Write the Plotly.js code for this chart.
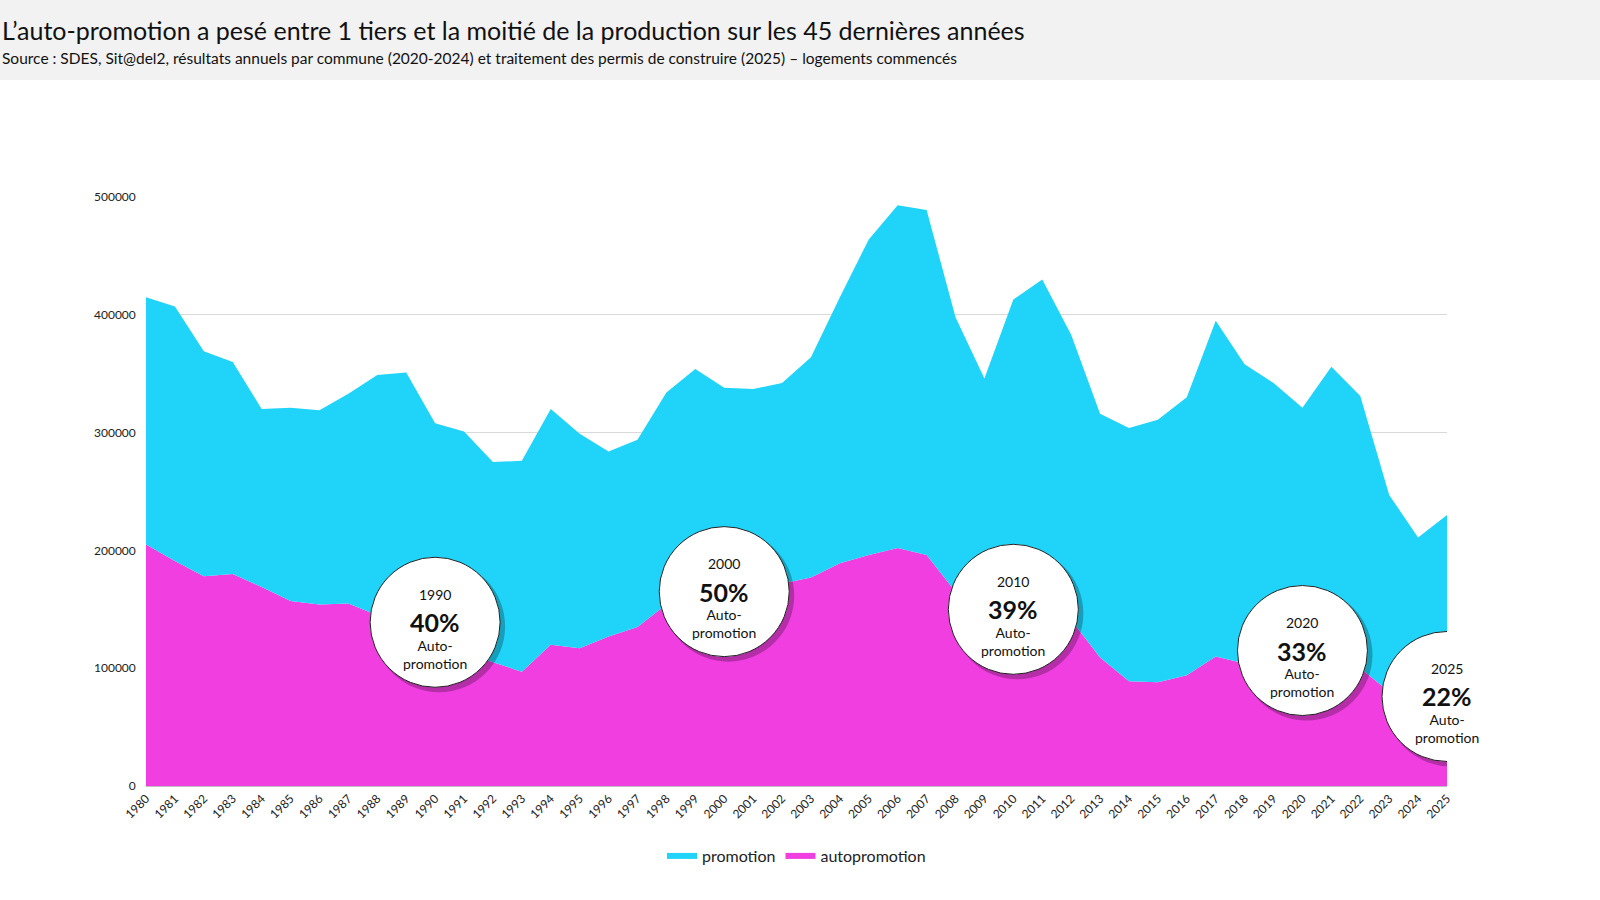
<!DOCTYPE html>
<html>
<head>
<meta charset="utf-8">
<script src="https://cdn.plot.ly/plotly-3.0.1.min.js"></script>
<style>body{margin:0;background:#fff}#chart{width:1600px;height:900px}</style>
</head>
<body>
<div id="chart"></div>
<script>
// Années et logements commencés (lecture approximative du graphique)
var years = [];
for (var y = 1980; y <= 2025; y++) years.push(y);

var autopromotion = [205000,191000,178000,180000,169000,157000,154000,155000,145000,137000,
  123000,115000,105000,97000,120000,117000,127000,135000,154000,165000,
  169000,170000,172000,177000,189000,196000,202000,196000,165000,145000,
  161000,160000,141000,109000,89000,88000,94000,110000,104000,100000,
  106000,110000,100000,80000,55000,51000];

var promotion = [210000,216000,191000,180000,151000,164000,165000,178000,204000,214000,
  185000,186000,170000,179000,200000,182000,157000,159000,180000,189000,
  169000,167000,170000,187000,226000,268000,291000,293000,233000,201000,
  252000,270000,242000,207000,215000,223000,236000,285000,254000,242000,
  215000,246000,231000,167000,156000,179000];

// bulles : année, part, position
var bubbleYear = [1990, 2000, 2010, 2020, 2025];
var bubbleShare = ['40%', '50%', '39%', '33%', '22%'];
var bubbleY = [139000, 165000, 150000, 115000, 76000];

var traces = [
  {x: years, y: autopromotion, name: 'autopromotion', type: 'scatter', mode: 'none',
   stackgroup: 'one', fillcolor: '#f03ee0', line: {width: 0}},
  {x: years, y: promotion, name: 'promotion', type: 'scatter', mode: 'none',
   stackgroup: 'one', fillcolor: '#1fd3f9', line: {width: 0}}
];

var shapes = [{type: 'rect', xref: 'paper', yref: 'paper', x0: -0.2, x1: 1.2,
  y0: (786 - 80) / 589, y1: 2, fillcolor: '#f2f2f2', line: {width: 0}, layer: 'below'}];
var annotations = [
  {xref: 'paper', yref: 'paper', x: -146 / 1301, y: (786 - 30) / 589, xanchor: 'left', yanchor: 'middle',
   text: 'L’auto-promotion a pesé entre 1 tiers et la moitié de la production sur les 45 dernières années',
   showarrow: false, font: {size: 25, color: '#111'}},
  {xref: 'paper', yref: 'paper', x: -146 / 1301, y: (786 - 58) / 589, xanchor: 'left', yanchor: 'middle',
   text: 'Source : SDES, Sit@del2, résultats annuels par commune (2020-2024) et traitement des permis de construire (2025) – logements commencés',
   showarrow: false, font: {size: 15.5, color: '#111'}}
];

bubbleYear.forEach(function (yr, i) {
  shapes.push({type: 'circle', xref: 'x', yref: 'y', xsizemode: 'pixel', ysizemode: 'pixel',
    xanchor: yr, yanchor: bubbleY[i], x0: -62, x1: 70, y0: -70, y1: 62,
    fillcolor: 'rgba(0,0,0,0.25)', line: {width: 0}});
  shapes.push({type: 'circle', xref: 'x', yref: 'y', xsizemode: 'pixel', ysizemode: 'pixel',
    xanchor: yr, yanchor: bubbleY[i], x0: -65, x1: 65, y0: -65, y1: 65,
    fillcolor: '#fff', line: {color: '#222', width: 1}});
  annotations.push({x: yr, y: bubbleY[i], yshift: 28, text: String(yr), showarrow: false,
    font: {size: 14, color: '#111'}});
  annotations.push({x: yr, y: bubbleY[i], yshift: 0, text: '<b>' + bubbleShare[i] + '</b>', showarrow: false,
    font: {size: 25, color: '#111'}});
  annotations.push({x: yr, y: bubbleY[i], yshift: -32, text: 'Auto-<br>promotion', showarrow: false,
    font: {size: 14, color: '#111'}});
});

var layout = {
  width: 1600, height: 900,
  margin: {l: 146, r: 153, t: 197, b: 114},
  paper_bgcolor: '#fff', plot_bgcolor: '#fff',
  font: {family: 'Lato, "Open Sans", sans-serif', color: '#222'},
  showlegend: true,
  legend: {orientation: 'h', x: 0.5, xanchor: 'center', y: -0.09, yanchor: 'top', font: {size: 16}},
  xaxis: {range: [1980, 2025], tickmode: 'array', tickvals: years, ticktext: years.map(String),
    tickangle: -45, tickfont: {size: 12}, showgrid: false, zeroline: false,
    showline: true, linecolor: '#bfbfbf', ticks: ''},
  yaxis: {range: [0, 500000], dtick: 100000, tickformat: 'd', tickfont: {size: 12},
    gridcolor: '#d9d9d9', zeroline: false, ticks: '', ticksuffix: '   '},
  shapes: shapes,
  annotations: annotations
};

Plotly.newPlot('chart', traces, layout, {displayModeBar: false});
</script>
</body>
</html>
